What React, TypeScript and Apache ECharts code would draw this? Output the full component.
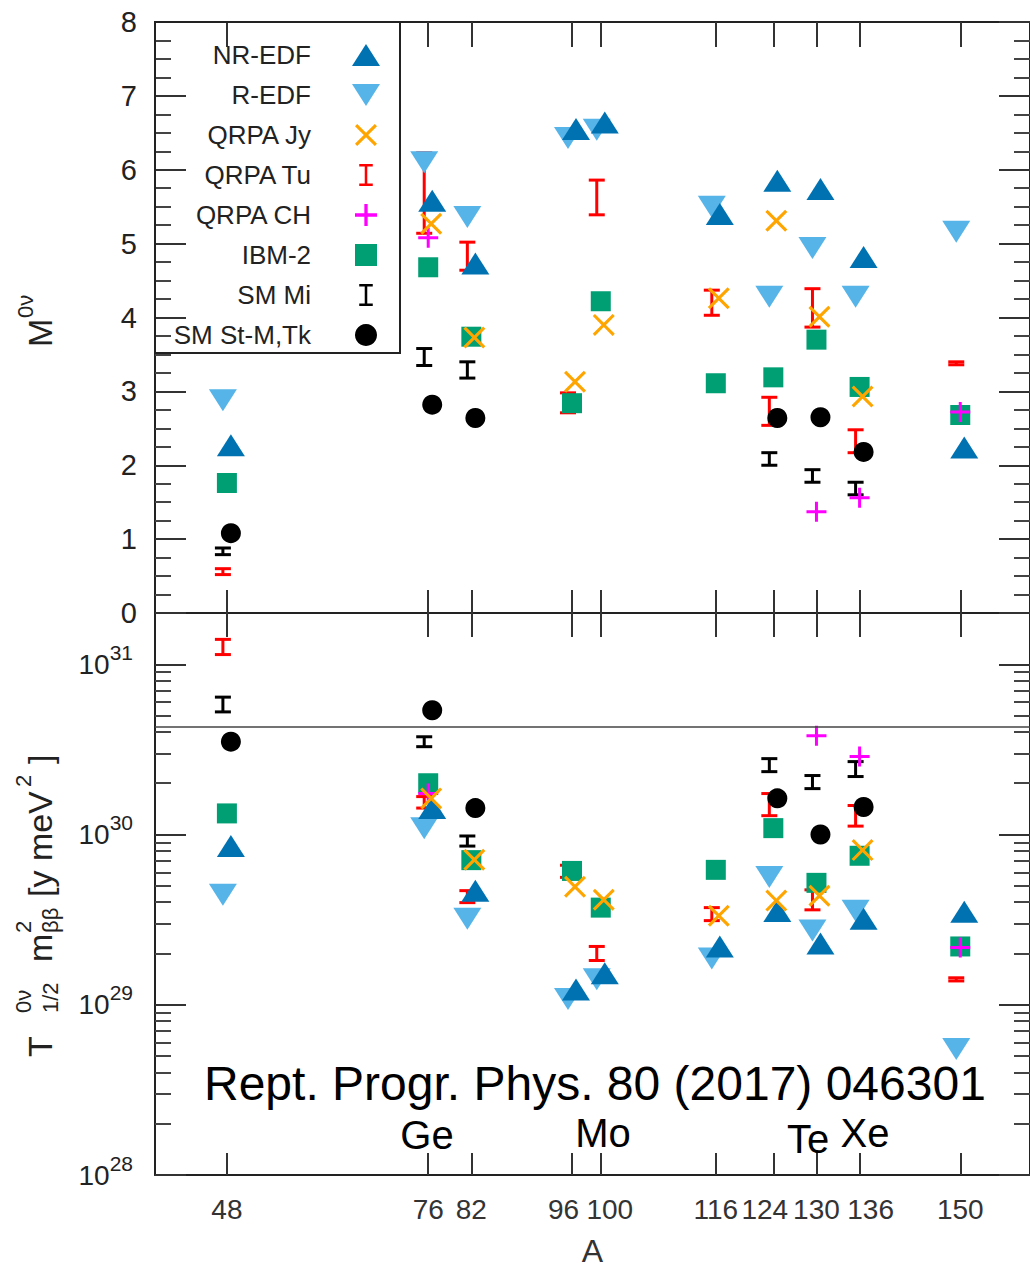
import React, { useEffect, useRef } from 'react';
import * as echarts from 'echarts';

const FONT = '"Liberation Sans", Arial, Helvetica, sans-serif';

// ---------- axes ----------
const A_TICKS = [48, 76, 82, 96, 100, 116, 124, 130, 136, 150];
const X_MIN = 38;
const X_MAX = 159.7;
const M_MIN = 0;
const M_MAX = 8;
const T_MIN = 1e28;
const T_MAX = 2e31;
const LOG_MAJOR = [1e28, 1e29, 1e30, 1e31];
const LOG_MINOR_MULT = [2, 3, 4, 5, 6, 7, 8, 9];
const REF_LINE = 4.3e30;

const SERIES_NAMES = ['NR-EDF', 'R-EDF', 'QRPA Jy', 'QRPA Tu', 'QRPA CH', 'IBM-2', 'SM Mi', 'SM St-M,Tk'];

// ---------- top panel: nuclear matrix elements M^0v ----------
const NR_EDF_M = [[48, 2.27], [76, 5.58], [82, 4.73], [96, 6.55], [100, 6.64], [116, 5.40], [124, 5.85], [130, 5.74], [136, 4.82], [150, 2.24]];
const R_EDF_M = [[48, 2.88], [76, 6.10], [82, 5.36], [96, 6.43], [100, 6.54], [116, 5.50], [124, 4.28], [130, 4.94], [136, 4.28], [150, 5.16]];
const QRPA_JY_M = [[76, 5.27], [82, 3.73], [96, 3.13], [100, 3.90], [116, 4.26], [124, 5.31], [130, 4.01], [136, 2.93]];
const QRPA_TU_M = [[48, 0.52, 0.60], [76, 5.14, 6.23], [82, 4.64, 5.02], [96, 2.71, 2.98], [100, 5.39, 5.86], [116, 4.03, 4.37], [124, 2.54, 2.92], [130, 3.87, 4.39], [136, 2.17, 2.48], [150, 3.36, 3.40]];
const QRPA_CH_M = [[76, 5.08], [130, 1.37], [136, 1.56], [150, 2.72]];
const IBM2_M = [[48, 1.76], [76, 4.68], [82, 3.74], [96, 2.84], [100, 4.22], [116, 3.11], [124, 3.19], [130, 3.70], [136, 3.06], [150, 2.68]];
const SM_MI_M = [[48, 0.79, 0.88], [76, 3.35, 3.58], [82, 3.18, 3.40], [124, 2.00, 2.17], [130, 1.77, 1.94], [136, 1.60, 1.77]];
const SM_STM_M = [[48, 1.08], [76, 2.82], [82, 2.64], [124, 2.64], [130, 2.65], [136, 2.18]];

// ---------- bottom panel: T1/2 * m_bb^2 [y meV^2] ----------
const NR_EDF_T = [[48, 8.55e29], [76, 1.43e30], [82, 4.68e29], [96, 1.23e29], [100, 1.53e29], [116, 2.2e29], [124, 3.55e29], [130, 2.29e29], [136, 3.2e29], [150, 3.52e29]];
const R_EDF_T = [[48, 4.43e29], [76, 1.09e30], [82, 3.2e29], [96, 1.08e29], [100, 1.41e29], [116, 1.87e29], [124, 5.63e29], [130, 2.73e29], [136, 3.57e29], [150, 5.5e28]];
const QRPA_JY_T = [[76, 1.63e30], [82, 7.1e29], [96, 4.93e29], [100, 4.14e29], [116, 3.33e29], [124, 4.09e29], [130, 4.37e29], [136, 8.1e29]];
const QRPA_TU_T = [[48, 1.14e31, 1.40e31], [76, 1.43e30, 1.67e30], [82, 3.98e29, 4.68e29], [96, 5.6e29, 6.6e29], [100, 1.82e29, 2.2e29], [116, 3.12e29, 3.72e29], [124, 1.29e30, 1.74e30], [130, 3.61e29, 4.73e29], [136, 1.12e30, 1.48e30], [150, 1.38e29, 1.44e29]];
const QRPA_CH_T = [[76, 1.74e30], [130, 3.8e30], [136, 2.87e30], [150, 2.17e29]];
const IBM2_T = [[48, 1.33e30], [76, 2.0e30], [82, 7.07e29], [96, 6.11e29], [100, 3.72e29], [116, 6.2e29], [124, 1.09e30], [130, 5.2e29], [136, 7.5e29], [150, 2.2e29]];
const SM_MI_T = [[48, 5.25e30, 6.41e30], [76, 3.28e30, 3.75e30], [82, 8.55e29, 9.8e29], [124, 2.34e30, 2.79e30], [130, 1.86e30, 2.22e30], [136, 2.19e30, 2.68e30]];
const SM_STM_T = [[48, 3.51e30], [76, 5.37e30], [82, 1.43e30], [124, 1.63e30], [130, 1.0e30], [136, 1.45e30]];

// ---------- annotations ----------
const CITATION = 'Rept. Progr. Phys. 80 (2017) 046301';
const NUCLEI = ['Ge', 'Mo', 'Te', 'Xe'];

// ---------- symbols ----------
const TRI_UP = 'path://M0,22L14,0L28,22Z';
const TRI_DOWN = 'path://M0,0L28,0L14,22Z';
const CROSS_X = 'path://M0,2L2,0L10,8L18,0L20,2L12,10L20,18L18,20L10,12L2,20L0,18L8,10Z';
const PLUS = 'path://M8.5,0H11.5V8.5H20V11.5H11.5V20H8.5V11.5H0V8.5H8.5Z';
const SQUARE = 'path://M0,0H20V20H0Z';
const I_BAR = 'path://M0,0H16V3H9.5V23H16V26H0V23H6.5V3H0Z';

const C_NR = '#0072b2';
const C_R = '#56b4e9';
const C_JY = '#ffa500';
const C_TU = '#ff0000';
const C_CH = '#ff00ff';
const C_IBM = '#009e73';
const C_BLACK = '#000000';

function scatter(name: string, data: number[][], symbol: string, size: number | number[], color: string, xi: number, yi: number, offset: number, extra: any = {}) {
  return {
    type: 'scatter',
    name,
    xAxisIndex: xi,
    yAxisIndex: yi,
    data,
    symbol,
    symbolSize: size,
    symbolOffset: [offset, 0],
    itemStyle: { color, opacity: 1 },
    emphasis: { disabled: true },
    ...extra,
  };
}

function errorBar(name: string, data: number[][], color: string, xi: number, yi: number, offset: number) {
  return {
    type: 'custom',
    name,
    xAxisIndex: xi,
    yAxisIndex: yi,
    data,
    itemStyle: { color },
    encode: { x: 0, y: [1, 2] },
    renderItem: (params: any, api: any) => {
      const x = api.value(0);
      const lo = api.coord([x, api.value(1)]);
      const hi = api.coord([x, api.value(2)]);
      const cx = lo[0] + offset;
      const hw = 8;
      const style = { stroke: color, lineWidth: 3, fill: 'none' };
      return {
        type: 'group',
        children: [
          { type: 'line', shape: { x1: cx, y1: lo[1], x2: cx, y2: hi[1] }, style },
          { type: 'line', shape: { x1: cx - hw, y1: lo[1], x2: cx + hw, y2: lo[1] }, style },
          { type: 'line', shape: { x1: cx - hw, y1: hi[1], x2: cx + hw, y2: hi[1] }, style },
        ],
      };
    },
  };
}

// crowded tick labels are nudged sideways as in the reference
function xLabel(v: number) {
  const k = Math.round(v);
  if (k === 96 || k === 124) return `{l|${k}}`;
  if (k === 100) return `{r|${k}}`;
  if (k === 136) return `{rr|${k}}`;
  return `{n|${k}}`;
}

const X_LABEL_RICH = {
  n: { fontSize: 28, color: '#333', fontFamily: FONT },
  l: { fontSize: 28, color: '#333', fontFamily: FONT, padding: [0, 17, 0, 0] },
  r: { fontSize: 28, color: '#333', fontFamily: FONT, padding: [0, 0, 0, 18] },
  rr: { fontSize: 28, color: '#333', fontFamily: FONT, padding: [0, 0, 0, 22] },
};

function xAxisDef(gridIndex: number, position: string, tickLen: number, showLabels: boolean, extra: any = {}) {
  return {
    gridIndex,
    type: 'value',
    position,
    min: X_MIN,
    max: X_MAX,
    axisLine: { show: true, onZero: false, lineStyle: { color: '#222', width: 2 } },
    axisTick: { show: true, inside: true, length: tickLen, customValues: A_TICKS, lineStyle: { color: '#333', width: 2 } },
    axisLabel: {
      show: showLabels,
      customValues: A_TICKS,
      fontSize: 28,
      color: '#333',
      margin: 20,
      fontFamily: FONT,
      formatter: xLabel,
      rich: X_LABEL_RICH,
    },
    splitLine: { show: false },
    ...extra,
  };
}

function mAxis(position: string, showLabels: boolean) {
  return {
    gridIndex: 0,
    type: 'value',
    position,
    min: M_MIN,
    max: M_MAX,
    interval: 1,
    axisLine: { show: true, onZero: false, lineStyle: { color: '#222', width: 2 } },
    axisTick: { show: true, inside: true, length: 31, lineStyle: { color: '#333', width: 2 } },
    minorTick: { show: true, splitNumber: 4, length: 16, lineStyle: { color: '#444', width: 2 } },
    axisLabel: { show: showLabels, fontSize: 29, color: '#222', margin: 18, fontFamily: FONT },
    splitLine: { show: false },
    minorSplitLine: { show: false },
  };
}

const LOG_MINOR: number[] = [];
LOG_MAJOR.slice(0, 3).forEach((d) => LOG_MINOR_MULT.forEach((m) => LOG_MINOR.push(d * m)));

function tAxis(position: string, major: boolean, showLabels: boolean) {
  return {
    gridIndex: 1,
    type: 'log',
    logBase: 10,
    position,
    min: T_MIN,
    max: T_MAX,
    axisLine: { show: major, onZero: false, lineStyle: { color: '#222', width: 2 } },
    axisTick: {
      show: true,
      inside: true,
      length: major ? 31 : 16,
      customValues: major ? LOG_MAJOR : LOG_MINOR,
      lineStyle: { color: major ? '#333' : '#444', width: 2 },
    },
    axisLabel: {
      show: showLabels,
      customValues: LOG_MAJOR,
      margin: 22,
      formatter: (v: number) => `{b|10}{s|${Math.round(Math.log10(v))}}`,
      rich: {
        b: { fontSize: 28, color: '#222', fontFamily: FONT },
        s: { fontSize: 21, color: '#222', fontFamily: FONT, padding: [0, 0, 24, 0] },
      },
    },
    splitLine: { show: false },
  };
}

function rotText(text: string, x: number, y: number, size: number) {
  return {
    type: 'text',
    x,
    y,
    rotation: Math.PI / 2,
    silent: true,
    style: {
      text,
      fontSize: size,
      fontFamily: FONT,
      fill: '#222',
      align: 'left',
      textAlign: 'left',
      verticalAlign: 'middle',
      textVerticalAlign: 'middle',
    },
  };
}

function plainText(text: string, x: number, y: number, size: number) {
  return {
    type: 'text',
    x,
    y,
    silent: true,
    style: {
      text,
      fontSize: size,
      fontFamily: FONT,
      fill: '#000',
      align: 'center',
      textAlign: 'center',
      verticalAlign: 'middle',
      textVerticalAlign: 'middle',
    },
  };
}

export default function App() {
  const ref = useRef<HTMLDivElement>(null);

  useEffect(() => {
    if (!ref.current) return;
    const chart = echarts.init(ref.current, null, { renderer: 'svg' });

    const series: any[] = [
      // top panel (grid 0 -> xAxis 0, yAxis 0)
      scatter('SM St-M,Tk', SM_STM_M, 'circle', 20, C_BLACK, 0, 0, 4),
      errorBar('SM Mi', SM_MI_M, C_BLACK, 0, 0, -4),
      scatter('IBM-2', IBM2_M, SQUARE, 20, C_IBM, 0, 0, 0),
      scatter('QRPA CH', QRPA_CH_M, PLUS, 20, C_CH, 0, 0, 0),
      scatter('R-EDF', R_EDF_M, TRI_DOWN, [28, 22], C_R, 0, 0, -4),
      errorBar('QRPA Tu', QRPA_TU_M, C_TU, 0, 0, -4),
      scatter('NR-EDF', NR_EDF_M, TRI_UP, [28, 22], C_NR, 0, 0, 4),
      scatter('QRPA Jy', QRPA_JY_M, CROSS_X, 22, C_JY, 0, 0, 3),
      // bottom panel (grid 1 -> xAxis 3, yAxis 2)
      scatter('SM St-M,Tk', SM_STM_T, 'circle', 20, C_BLACK, 3, 2, 4, {
        markLine: {
          silent: true,
          symbol: ['none', 'none'],
          label: { show: false },
          lineStyle: { color: '#444', width: 1.5, type: 'solid' },
          data: [{ yAxis: REF_LINE }],
        },
      }),
      errorBar('SM Mi', SM_MI_T, C_BLACK, 3, 2, -4),
      scatter('IBM-2', IBM2_T, SQUARE, 20, C_IBM, 3, 2, 0),
      scatter('QRPA CH', QRPA_CH_T, PLUS, 20, C_CH, 3, 2, 0),
      scatter('R-EDF', R_EDF_T, TRI_DOWN, [28, 22], C_R, 3, 2, -4),
      errorBar('QRPA Tu', QRPA_TU_T, C_TU, 3, 2, -4),
      scatter('NR-EDF', NR_EDF_T, TRI_UP, [28, 22], C_NR, 3, 2, 4),
      scatter('QRPA Jy', QRPA_JY_T, CROSS_X, 22, C_JY, 3, 2, 3),
    ];

    const legendIcons: Record<string, string> = {
      'NR-EDF': TRI_UP,
      'R-EDF': TRI_DOWN,
      'QRPA Jy': CROSS_X,
      'QRPA Tu': I_BAR,
      'QRPA CH': PLUS,
      'IBM-2': SQUARE,
      'SM Mi': I_BAR,
      'SM St-M,Tk': 'circle',
    };

    const option: any = {
      animation: false,
      backgroundColor: '#ffffff',
      textStyle: { fontFamily: FONT },
      grid: [
        { left: 155, right: 0, top: 22, height: 591, containLabel: false },
        { left: 155, right: 0, top: 613, height: 566, containLabel: false },
      ],
      xAxis: [
        xAxisDef(0, 'bottom', 23, false),
        xAxisDef(0, 'top', 25, false),
        xAxisDef(1, 'top', 24, false),
        xAxisDef(1, 'bottom', 22, true, {
          name: 'A',
          nameLocation: 'middle',
          nameGap: 60,
          nameTextStyle: { fontSize: 32, color: '#333', fontFamily: FONT },
        }),
      ],
      yAxis: [
        mAxis('left', true),
        mAxis('right', false),
        tAxis('left', true, true),
        tAxis('left', false, false),
        tAxis('right', true, false),
        tAxis('right', false, false),
      ],
      legend: {
        orient: 'vertical',
        align: 'right',
        right: 650,
        top: 42,
        padding: 0,
        itemGap: 14,
        itemWidth: 28,
        itemHeight: 22,
        selectedMode: false,
        itemStyle: { borderWidth: 0 },
        textStyle: { fontSize: 26, color: '#222', fontFamily: FONT, lineHeight: 26, padding: [0, 36, 0, 0] },
        data: SERIES_NAMES.map((n) => ({ name: n, icon: legendIcons[n] })),
      },
      graphic: [
        {
          type: 'rect',
          silent: true,
          z: 10,
          shape: { x: 155, y: 22, width: 245, height: 331 },
          style: { fill: 'none', stroke: '#222', lineWidth: 2 },
        },
        // y titles
        rotText('M', 40, 347, 34),
        rotText('0ν', 25, 318, 22),
        rotText('T', 40, 1057, 34),
        rotText('0ν', 23, 1013, 22),
        rotText('1/2', 50, 1013, 22),
        rotText('m', 40, 962, 34),
        rotText('2', 23, 933, 22),
        rotText('ββ', 50, 933, 22),
        rotText('[y meV', 40, 897, 34),
        rotText('2', 23, 787, 22),
        rotText(']', 40, 764, 34),
        // annotations
        {
          type: 'text',
          x: 204,
          y: 1083,
          silent: true,
          style: {
            text: CITATION,
            fontSize: 48,
            fontFamily: FONT,
            fill: '#000',
            align: 'left',
            textAlign: 'left',
            verticalAlign: 'middle',
            textVerticalAlign: 'middle',
          },
        },
        plainText(NUCLEI[0], 427, 1135, 40),
        plainText(NUCLEI[1], 603, 1133, 40),
        plainText(NUCLEI[2], 808, 1139, 40),
        plainText(NUCLEI[3], 865, 1133, 40),
      ],
      series,
    };

    chart.setOption(option);
    return () => chart.dispose();
  }, []);

  return <div ref={ref} style={{ position: 'absolute', left: 0, top: 0, width: 1030, height: 1268 }} />;
}
